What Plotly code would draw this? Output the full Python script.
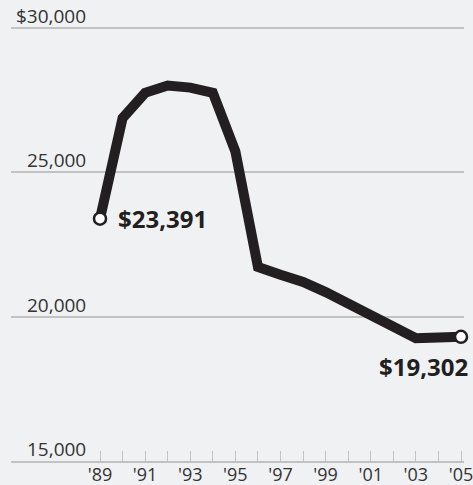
import plotly.graph_objects as go

years = list(range(1989, 2006))
values = [23391, 26870, 27750, 28000, 27930, 27750, 25720, 21720, 21450, 21200,
          20850, 20450, 20090, 19700, 19250, 19280, 19302]

x_tick_vals = years
x_tick_text = ["'" + str(y)[2:] if (y - 1989) % 2 == 0 else "" for y in years]
y_tick_vals = [15000, 20000, 25000, 30000]
y_tick_text = ["15,000", "20,000", "25,000", "$30,000"]

first_label = "$23,391"
last_label = "$19,302"

BG = "#f0f1f3"
GRID = "#c2c2c2"
INK = "#231f20"
TXT = "#333333"

fig = go.Figure()
fig.add_trace(go.Scatter(
    x=years, y=values, mode="lines",
    line=dict(color=INK, width=10),
    cliponaxis=False, hoverinfo="skip", showlegend=False,
))
fig.add_trace(go.Scatter(
    x=[years[0], years[-1]], y=[values[0], values[-1]], mode="markers",
    marker=dict(color="white", size=12, line=dict(color=INK, width=2.5)),
    cliponaxis=False, hoverinfo="skip", showlegend=False,
))

annotations = []
for v, t in zip(y_tick_vals, y_tick_text):
    annotations.append(dict(
        x=(88 - 11) / 453, xref="paper", y=v, yref="y", text=t,
        xanchor="right", yanchor="bottom", showarrow=False, yshift=-3,
        font=dict(family="Open Sans", size=19, color=TXT),
    ))
annotations.append(dict(
    x=years[0], y=values[0], text=first_label, showarrow=False,
    xanchor="left", yanchor="middle", xshift=16, yshift=0,
    font=dict(family="Open Sans", size=24, color=INK, weight="bold"),
))
annotations.append(dict(
    x=years[-1], y=values[-1], text=last_label, showarrow=False,
    xanchor="right", yanchor="middle", xshift=9, yshift=-30,
    font=dict(family="Open Sans", size=24, color=INK, weight="bold"),
))

fig.update_layout(
    width=473, height=485,
    margin=dict(l=11, r=9, t=0, b=24, autoexpand=False),
    paper_bgcolor=BG, plot_bgcolor=BG,
    xaxis=dict(
        range=[1985.055, 2005.133], tickvals=x_tick_vals, ticktext=x_tick_text,
        ticks="inside", ticklen=10, tickwidth=1, tickcolor=GRID,
        showgrid=False, zeroline=False, showline=True, linecolor=GRID, linewidth=1.5,
        tickfont=dict(family="Open Sans", size=18, color=TXT),
        ticklabeloverflow="allow", automargin=False, ticklabelstandoff=-3,
    ),
    yaxis=dict(
        range=[15000, 30964], tickvals=y_tick_vals, showticklabels=False,
        showgrid=True, gridcolor=GRID, gridwidth=1.5, zeroline=False,
        automargin=False,
    ),
    annotations=annotations,
)

fig.write_html(
    "out.html",
    config={"displayModeBar": False},
    post_script="document.body.style.margin='0';document.body.style.overflow='hidden';document.body.style.background='#f0f1f3';",
)
